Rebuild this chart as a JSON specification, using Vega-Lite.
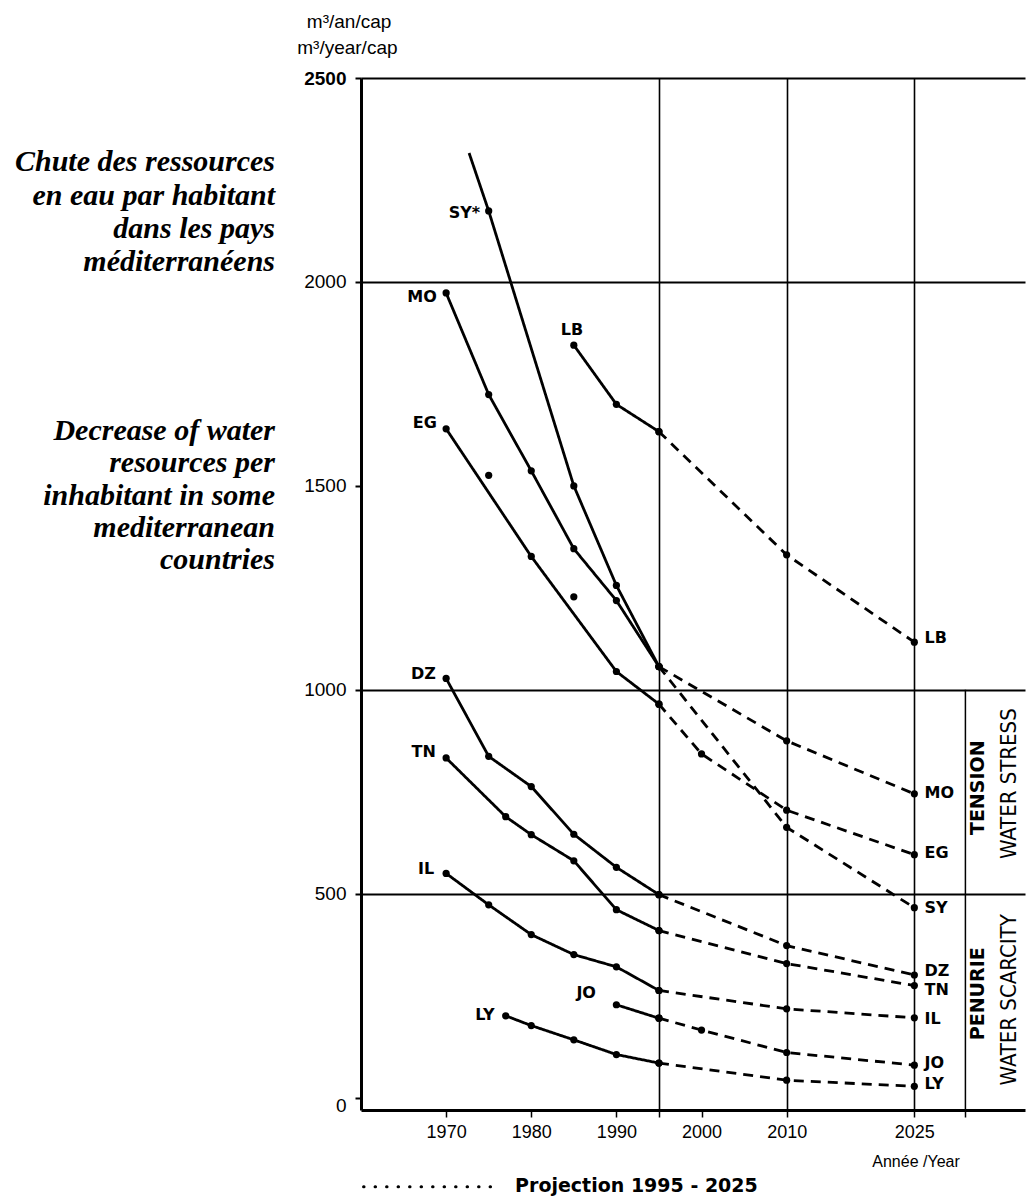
{
  "$schema": "https://vega.github.io/schema/vega-lite/v6.json",
  "width": 664,
  "height": 1032,
  "autosize": {"type": "none"},
  "padding": {"left": 361, "top": 78, "right": 2, "bottom": 89},
  "background": "white",
  "config": {"view": {"stroke": null}, "axis": {"labelFont": "Liberation Sans", "labelColor": "black"}},
  "datasets": {
    "series": [
      {"country": "SY", "phase": "observed", "year": 1972.7, "value": 2316},
      {"country": "SY", "phase": "observed", "year": 1975, "value": 2174},
      {"country": "SY", "phase": "observed", "year": 1985, "value": 1500},
      {"country": "SY", "phase": "observed", "year": 1990, "value": 1256},
      {"country": "SY", "phase": "observed", "year": 1995, "value": 1057},
      {"country": "SY", "phase": "projection", "year": 1995, "value": 1057},
      {"country": "SY", "phase": "projection", "year": 2010, "value": 663},
      {"country": "SY", "phase": "projection", "year": 2025, "value": 466},
      {"country": "MO", "phase": "observed", "year": 1970, "value": 1973},
      {"country": "MO", "phase": "observed", "year": 1975, "value": 1724},
      {"country": "MO", "phase": "observed", "year": 1980, "value": 1537},
      {"country": "MO", "phase": "observed", "year": 1985, "value": 1346},
      {"country": "MO", "phase": "observed", "year": 1990, "value": 1219},
      {"country": "MO", "phase": "observed", "year": 1995, "value": 1057},
      {"country": "MO", "phase": "projection", "year": 1995, "value": 1057},
      {"country": "MO", "phase": "projection", "year": 2010, "value": 875},
      {"country": "MO", "phase": "projection", "year": 2025, "value": 745},
      {"country": "EG", "phase": "observed", "year": 1970, "value": 1640},
      {"country": "EG", "phase": "observed", "year": 1980, "value": 1327},
      {"country": "EG", "phase": "observed", "year": 1990, "value": 1045},
      {"country": "EG", "phase": "observed", "year": 1995, "value": 965},
      {"country": "EG", "phase": "projection", "year": 1995, "value": 965},
      {"country": "EG", "phase": "projection", "year": 2000, "value": 843},
      {"country": "EG", "phase": "projection", "year": 2010, "value": 705},
      {"country": "EG", "phase": "projection", "year": 2025, "value": 596},
      {"country": "LB", "phase": "observed", "year": 1985, "value": 1845},
      {"country": "LB", "phase": "observed", "year": 1990, "value": 1700},
      {"country": "LB", "phase": "observed", "year": 1995, "value": 1633},
      {"country": "LB", "phase": "projection", "year": 1995, "value": 1633},
      {"country": "LB", "phase": "projection", "year": 2010, "value": 1331},
      {"country": "LB", "phase": "projection", "year": 2025, "value": 1117},
      {"country": "DZ", "phase": "observed", "year": 1970, "value": 1028},
      {"country": "DZ", "phase": "observed", "year": 1975, "value": 837},
      {"country": "DZ", "phase": "observed", "year": 1980, "value": 763},
      {"country": "DZ", "phase": "observed", "year": 1985, "value": 646},
      {"country": "DZ", "phase": "observed", "year": 1990, "value": 565},
      {"country": "DZ", "phase": "observed", "year": 1995, "value": 498},
      {"country": "DZ", "phase": "projection", "year": 1995, "value": 498},
      {"country": "DZ", "phase": "projection", "year": 2010, "value": 373},
      {"country": "DZ", "phase": "projection", "year": 2025, "value": 301},
      {"country": "TN", "phase": "observed", "year": 1970, "value": 833},
      {"country": "TN", "phase": "observed", "year": 1977, "value": 689},
      {"country": "TN", "phase": "observed", "year": 1980, "value": 645},
      {"country": "TN", "phase": "observed", "year": 1985, "value": 581},
      {"country": "TN", "phase": "observed", "year": 1990, "value": 461},
      {"country": "TN", "phase": "observed", "year": 1995, "value": 410},
      {"country": "TN", "phase": "projection", "year": 1995, "value": 410},
      {"country": "TN", "phase": "projection", "year": 2010, "value": 329},
      {"country": "TN", "phase": "projection", "year": 2025, "value": 275},
      {"country": "IL", "phase": "observed", "year": 1970, "value": 550},
      {"country": "IL", "phase": "observed", "year": 1975, "value": 473},
      {"country": "IL", "phase": "observed", "year": 1980, "value": 400},
      {"country": "IL", "phase": "observed", "year": 1985, "value": 351},
      {"country": "IL", "phase": "observed", "year": 1990, "value": 321},
      {"country": "IL", "phase": "observed", "year": 1995, "value": 263},
      {"country": "IL", "phase": "projection", "year": 1995, "value": 263},
      {"country": "IL", "phase": "projection", "year": 2010, "value": 218},
      {"country": "IL", "phase": "projection", "year": 2025, "value": 196},
      {"country": "JO", "phase": "observed", "year": 1990, "value": 228},
      {"country": "JO", "phase": "observed", "year": 1995, "value": 195},
      {"country": "JO", "phase": "projection", "year": 1995, "value": 195},
      {"country": "JO", "phase": "projection", "year": 2000, "value": 166},
      {"country": "JO", "phase": "projection", "year": 2010, "value": 111},
      {"country": "JO", "phase": "projection", "year": 2025, "value": 80},
      {"country": "LY", "phase": "observed", "year": 1977, "value": 201},
      {"country": "LY", "phase": "observed", "year": 1980, "value": 177},
      {"country": "LY", "phase": "observed", "year": 1985, "value": 142},
      {"country": "LY", "phase": "observed", "year": 1990, "value": 106},
      {"country": "LY", "phase": "observed", "year": 1995, "value": 85},
      {"country": "LY", "phase": "projection", "year": 1995, "value": 85},
      {"country": "LY", "phase": "projection", "year": 2010, "value": 43},
      {"country": "LY", "phase": "projection", "year": 2025, "value": 28}
    ],
    "eg_dots": [
      {"country": "EG", "year": 1975, "value": 1526},
      {"country": "EG", "year": 1985, "value": 1228}
    ],
    "labels_start": [
      {"text": "SY*", "year": 1974.0, "value": 2168},
      {"text": "MO", "year": 1968.9, "value": 1963},
      {"text": "LB", "year": 1986.1, "value": 1883},
      {"text": "EG", "year": 1968.9, "value": 1654},
      {"text": "DZ", "year": 1968.8, "value": 1038},
      {"text": "TN", "year": 1968.8, "value": 848},
      {"text": "IL", "year": 1968.6, "value": 561},
      {"text": "JO", "year": 1987.6, "value": 256},
      {"text": "LY", "year": 1975.7, "value": 203}
    ],
    "labels_end": [
      {"text": "LB", "year": 2026.2, "value": 1126},
      {"text": "MO", "year": 2026.2, "value": 748},
      {"text": "EG", "year": 2026.2, "value": 599},
      {"text": "SY", "year": 2026.2, "value": 466},
      {"text": "DZ", "year": 2026.2, "value": 310},
      {"text": "TN", "year": 2026.2, "value": 264},
      {"text": "IL", "year": 2026.2, "value": 192},
      {"text": "JO", "year": 2026.2, "value": 84},
      {"text": "LY", "year": 2026.2, "value": 34}
    ],
    "zone_fr": [
      {"text": "TENSION", "year": 2032.5, "value": 760},
      {"text": "PENURIE", "year": 2032.5, "value": 255}
    ],
    "zone_en": [
      {"text": "WATER STRESS", "year": 2036.1, "value": 770},
      {"text": "WATER SCARCITY", "year": 2036.1, "value": 240}
    ],
    "zone_divider": [
      {"year": 2031, "upper": 1000, "lower": -30}
    ],
    "projection_key": [
      {"start": 1960.3, "end": 1976.3, "value": -218}
    ],
    "titles": [
      {"text": "Chute des ressources", "year": 1949.9, "value": 2294},
      {"text": "en eau par habitant", "year": 1949.9, "value": 2211},
      {"text": "dans les pays", "year": 1949.9, "value": 2130},
      {"text": "méditerranéens", "year": 1949.9, "value": 2049},
      {"text": "Decrease of water", "year": 1949.9, "value": 1635},
      {"text": "resources per", "year": 1949.9, "value": 1556},
      {"text": "inhabitant in some", "year": 1949.9, "value": 1475},
      {"text": "mediterranean", "year": 1949.9, "value": 1397},
      {"text": "countries", "year": 1949.9, "value": 1318}
    ],
    "units": [
      {"text": "m³/an/cap", "year": 1958.6, "value": 2637},
      {"text": "m³/year/cap", "year": 1958.4, "value": 2574}
    ],
    "xtitle": [
      {"text": "Année /Year", "year": 2025.2, "value": -157}
    ],
    "legend": [
      {"text": "Projection 1995 - 2025", "year": 1978.1, "value": -216}
    ]
  },
  "encoding": {
    "x": {
      "field": "year",
      "type": "quantitative",
      "scale": {"domain": [1960, 2038], "nice": false, "zero": false},
      "axis": {
        "title": null,
        "values": [1970, 1980, 1990, 1995, 2000, 2010, 2025, 2031],
        "format": "d",
        "labelExpr": "datum.value == 1995 || datum.value == 2031 ? '' : datum.label",
        "grid": true,
        "gridColor": "black",
        "gridWidth": 1.6,
        "gridOpacity": {"condition": {"test": "datum.value == 1995 || datum.value == 2010 || datum.value == 2025", "value": 1}, "value": 0},
        "domainColor": "black",
        "domainWidth": 3,
        "tickColor": "black",
        "tickSize": 7,
        "tickWidth": 1.5,
        "labelFontSize": 18,
        "labelPadding": 6,
        "labelFlush": false,
        "labelOverlap": false
      }
    },
    "y": {
      "field": "value",
      "type": "quantitative",
      "scale": {"domain": [-30, 2500], "nice": false, "zero": false},
      "axis": {
        "title": null,
        "values": [0, 500, 1000, 1500, 2000, 2500],
        "format": "d",
        "grid": true,
        "gridColor": "black",
        "gridWidth": 2.2,
        "gridOpacity": {"condition": {"test": "datum.value == 500 || datum.value == 1000 || datum.value == 2000 || datum.value == 2500", "value": 1}, "value": 0},
        "domainColor": "black",
        "domainWidth": 3,
        "tickColor": "black",
        "tickSize": 6,
        "tickWidth": 2,
        "labelFontSize": 19,
        "labelPadding": 9,
        "labelOffset": {"condition": {"test": "datum.value == 0", "value": 8}, "value": 0},
        "labelFontWeight": {"condition": {"test": "datum.value == 2500", "value": "bold"}, "value": "normal"},
        "labelFlush": false,
        "labelOverlap": false
      }
    }
  },
  "layer": [
    {
      "data": {"name": "series"},
      "mark": {"type": "line", "color": "black", "strokeWidth": 2.8},
      "encoding": {
        "detail": {"field": "country"},
        "strokeDash": {"field": "phase", "type": "nominal", "scale": {"domain": ["observed", "projection"], "range": [[1, 0], [10, 7]]}, "legend": null}
      }
    },
    {
      "data": {"name": "series"},
      "transform": [{"filter": "datum.country != 'SY' || datum.year >= 1974"}],
      "mark": {"type": "circle", "color": "black", "opacity": 1, "size": 52},
      "encoding": {}
    },
    {
      "data": {"name": "eg_dots"},
      "mark": {"type": "circle", "color": "black", "opacity": 1, "size": 52},
      "encoding": {}
    },
    {
      "data": {"name": "zone_divider"},
      "mark": {"type": "rule", "color": "black", "strokeWidth": 1.5},
      "encoding": {"y": {"field": "upper", "type": "quantitative"}, "y2": {"field": "lower"}}
    },
    {
      "data": {"name": "projection_key"},
      "mark": {"type": "rule", "color": "black", "strokeWidth": 3, "strokeDash": [0.5, 11], "strokeCap": "round"},
      "encoding": {"x": {"field": "start", "type": "quantitative"}, "x2": {"field": "end"}}
    },
    {
      "data": {"name": "labels_start"},
      "mark": {"type": "text", "align": "right", "baseline": "middle", "font": "DejaVu Sans", "fontWeight": "bold", "fontSize": 16, "color": "black"},
      "encoding": {"text": {"field": "text"}}
    },
    {
      "data": {"name": "labels_end"},
      "mark": {"type": "text", "align": "left", "baseline": "middle", "font": "DejaVu Sans", "fontWeight": "bold", "fontSize": 16, "color": "black"},
      "encoding": {"text": {"field": "text"}}
    },
    {
      "data": {"name": "zone_fr"},
      "mark": {"type": "text", "align": "center", "baseline": "middle", "angle": 270, "font": "DejaVu Sans", "fontWeight": "bold", "fontSize": 19, "color": "black"},
      "encoding": {"text": {"field": "text"}}
    },
    {
      "data": {"name": "zone_en"},
      "mark": {"type": "text", "align": "center", "baseline": "middle", "angle": 270, "font": "Liberation Sans Narrow, DejaVu Sans Condensed, Liberation Sans", "fontSize": 22, "color": "black"},
      "encoding": {"text": {"field": "text"}}
    },
    {
      "data": {"name": "titles"},
      "mark": {"type": "text", "align": "right", "baseline": "middle", "font": "Liberation Serif", "fontStyle": "italic", "fontWeight": "bold", "fontSize": 30, "color": "black"},
      "encoding": {"text": {"field": "text"}}
    },
    {
      "data": {"name": "units"},
      "mark": {"type": "text", "align": "center", "baseline": "middle", "font": "Liberation Sans", "fontSize": 19, "color": "black"},
      "encoding": {"text": {"field": "text"}}
    },
    {
      "data": {"name": "xtitle"},
      "mark": {"type": "text", "align": "center", "baseline": "middle", "font": "Liberation Sans", "fontSize": 16, "color": "black"},
      "encoding": {"text": {"field": "text"}}
    },
    {
      "data": {"name": "legend"},
      "mark": {"type": "text", "align": "left", "baseline": "middle", "font": "DejaVu Sans", "fontWeight": "bold", "fontSize": 19, "color": "black"},
      "encoding": {"text": {"field": "text"}}
    }
  ]
}
